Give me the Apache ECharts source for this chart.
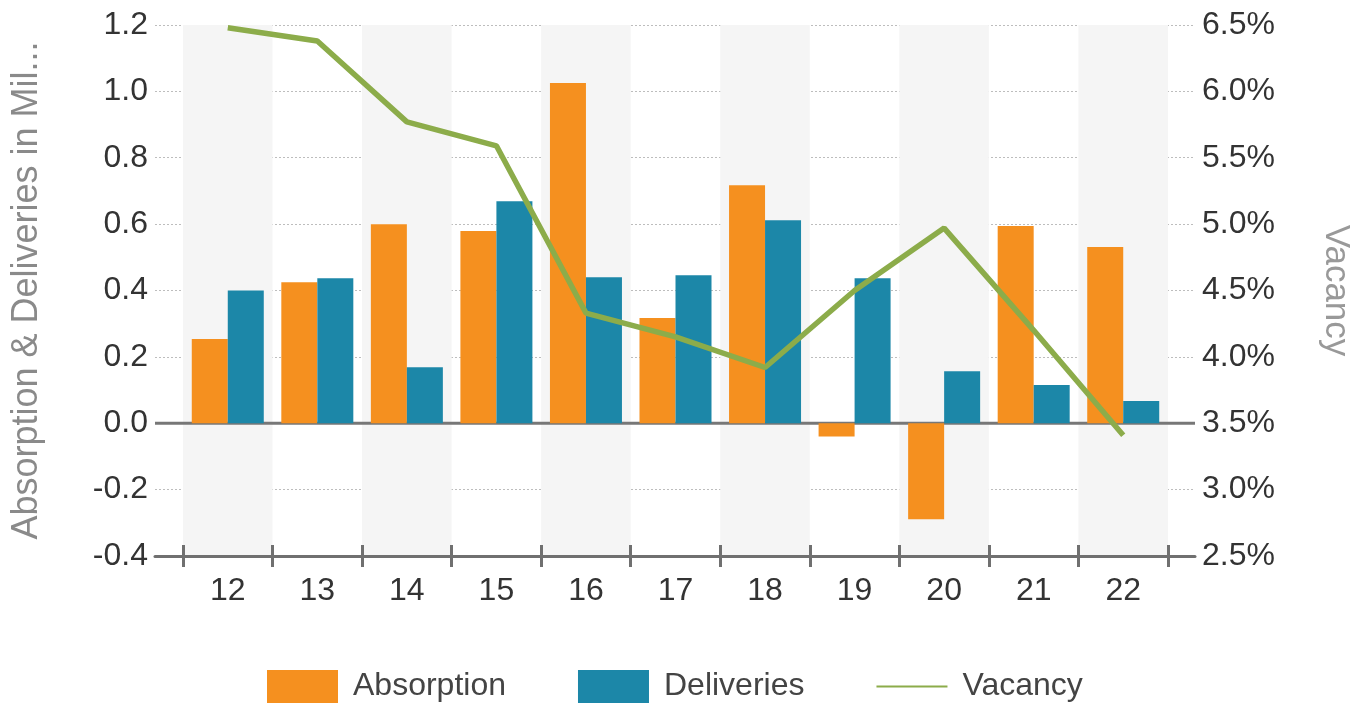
<!DOCTYPE html>
<html>
<head>
<meta charset="utf-8">
<script src="https://cdn.jsdelivr.net/npm/echarts@6/dist/echarts.min.js"></script>
<style>
  html, body { margin: 0; padding: 0; background: #fff; }
  #chart { width: 1370px; height: 703px; }
</style>
</head>
<body>
<div id="chart"></div>
<script>
const years = ['12', '13', '14', '15', '16', '17', '18', '19', '20', '21', '22']
const absorption = [0.254, 0.425, 0.6, 0.579, 1.025, 0.317, 0.717, -0.04, -0.289, 0.594, 0.531]
const deliveries = [0.4, 0.437, 0.169, 0.669, 0.44, 0.446, 0.612, 0.437, 0.157, 0.115, 0.067]
const vacancy = [6.48, 6.38, 5.77, 5.59, 4.33, 4.15, 3.92, 4.5, 4.97, 4.2, 3.41]

const font = "'Liberation Sans', Arial, sans-serif"
const axisGray = '#707070'
// thin line centred in the legend box (the empty sub-paths keep the box size)
const lineIcon = 'path://M0,0L0,0ZM71,33L71,33ZM0,15.5L71,15.5L71,17.5L0,17.5Z'

const chart = echarts.init(document.getElementById('chart'))

chart.setOption({
  animation: false,
  textStyle: { fontFamily: font },
  grid: [
    { left: 155, right: 175, top: 25, height: 531 },
    { left: 183, right: 202, top: 25, height: 531 }
  ],
  legend: {
    top: 665,
    left: 262,
    itemWidth: 71,
    itemHeight: 33,
    itemGap: 72,
    textStyle: { fontSize: 32, color: '#444', fontFamily: font, padding: [0, 0, 0, 10] },
    data: [
      { name: 'Absorption', icon: 'rect' },
      { name: 'Deliveries', icon: 'rect' },
      { name: 'Vacancy', icon: lineIcon }
    ]
  },
  xAxis: [
    {
      gridIndex: 0,
      type: 'value',
      min: 0,
      max: 1,
      axisLine: { show: true, onZero: false, lineStyle: { color: axisGray, width: 3 } },
      axisTick: { show: false },
      axisLabel: { show: false },
      splitLine: { show: false }
    },
    {
      gridIndex: 1,
      type: 'category',
      data: years,
      axisLine: { show: false, onZero: false },
      axisTick: { show: true, length: 11, lineStyle: { color: axisGray, width: 3 } },
      axisLabel: { fontSize: 32, color: '#333', margin: 19 },
      splitArea: { show: true, areaStyle: { color: ['#f5f5f5', 'rgba(255,255,255,0)'] } }
    },
    {
      gridIndex: 1,
      type: 'category',
      position: 'bottom',
      data: years,
      axisLine: { show: false, onZero: false },
      axisTick: { show: true, inside: true, length: 11, lineStyle: { color: axisGray, width: 3 } },
      axisLabel: { show: false }
    }
  ],
  yAxis: [
    {
      gridIndex: 0,
      type: 'value',
      position: 'left',
      min: -0.4,
      max: 1.2,
      interval: 0.2,
      name: 'Absorption & Deliveries in Mil...',
      nameLocation: 'middle',
      nameGap: 110,
      nameTextStyle: { fontSize: 36, color: '#8a8a8a' },
      axisLine: { show: false },
      axisTick: { show: false },
      axisLabel: { fontSize: 32, color: '#333', margin: 7, formatter: (v) => v.toFixed(1) },
      splitLine: { show: true, lineStyle: { color: '#bdbdbd', type: [2, 2], width: 1 } }
    },
    {
      gridIndex: 0,
      type: 'value',
      position: 'right',
      min: 2.5,
      max: 6.5,
      interval: 0.5,
      name: 'Vacancy',
      nameLocation: 'middle',
      nameRotate: -90,
      nameGap: 123,
      nameTextStyle: { fontSize: 35, color: '#999' },
      axisLine: { show: false },
      axisTick: { show: false },
      axisLabel: { fontSize: 32, color: '#333', margin: 7, formatter: (v) => v.toFixed(1) + '%' },
      splitLine: { show: false }
    },
    { gridIndex: 1, type: 'value', min: -0.4, max: 1.2, interval: 0.2, show: false },
    { gridIndex: 1, type: 'value', position: 'right', min: 2.5, max: 6.5, interval: 0.5, show: false }
  ],
  series: [
    {
      name: 'zero',
      type: 'line',
      xAxisIndex: 0,
      yAxisIndex: 0,
      data: [[0, 0], [1, 0]],
      symbol: 'none',
      silent: true,
      lineStyle: { color: '#777', width: 3 },
      z: 1
    },
    {
      name: 'Absorption',
      type: 'bar',
      xAxisIndex: 1,
      yAxisIndex: 2,
      barWidth: 36,
      barGap: 0,
      itemStyle: { color: '#f5901f' },
      data: absorption
    },
    {
      name: 'Deliveries',
      type: 'bar',
      xAxisIndex: 1,
      yAxisIndex: 2,
      barWidth: 36,
      barGap: 0,
      itemStyle: { color: '#1c87a8' },
      data: deliveries
    },
    {
      name: 'Vacancy',
      type: 'line',
      xAxisIndex: 1,
      yAxisIndex: 3,
      symbol: 'none',
      itemStyle: { color: '#8cac4a' },
      lineStyle: { color: '#8cac4a', width: 5.5 },
      data: vacancy,
      z: 5
    }
  ]
})
</script>
</body>
</html>
